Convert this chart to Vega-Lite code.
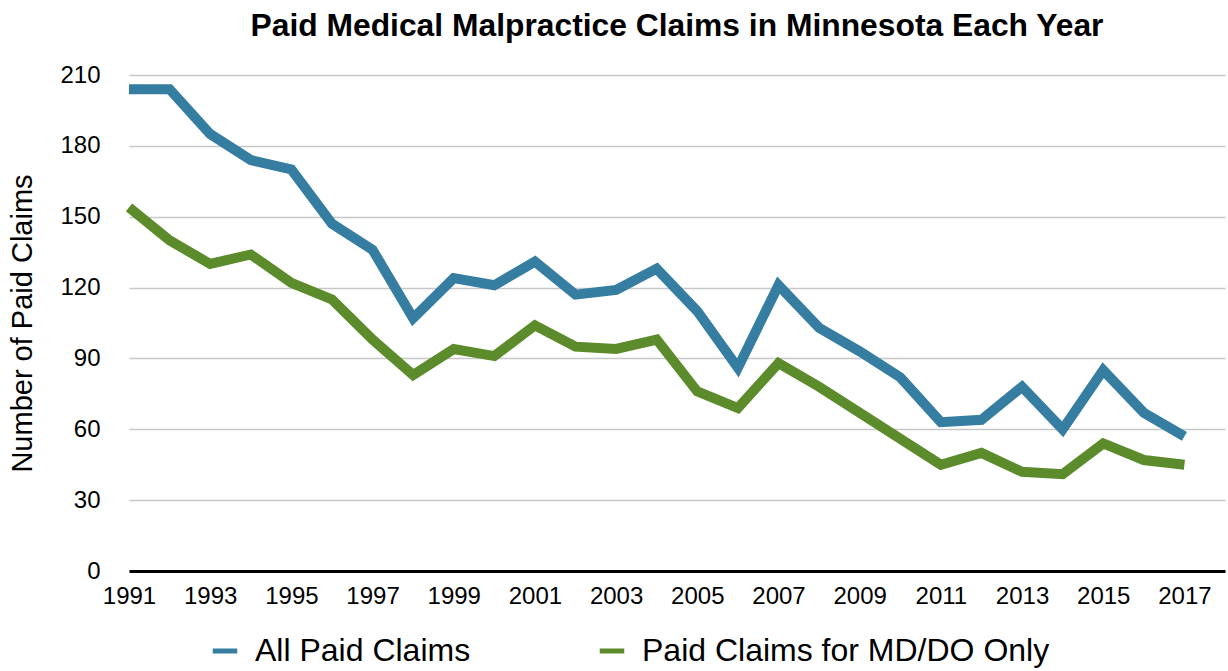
{
  "$schema": "https://vega.github.io/schema/vega-lite/v6.json",
  "autosize": "none",
  "width": 1096,
  "height": 496,
  "padding": {"left": 129, "top": 75, "right": 3, "bottom": 100},
  "background": "white",
  "title": {
    "text": "Paid Medical Malpractice Claims in Minnesota Each Year",
    "font": "Liberation Sans",
    "fontSize": 31.8,
    "fontWeight": "bold",
    "color": "#000000",
    "anchor": "middle",
    "frame": "group",
    "baseline": "alphabetic",
    "offset": -5
  },
  "data": {
    "values": [
      {"year": 1991, "series": "All Paid Claims", "claims": 204},
      {"year": 1992, "series": "All Paid Claims", "claims": 204},
      {"year": 1993, "series": "All Paid Claims", "claims": 185},
      {"year": 1994, "series": "All Paid Claims", "claims": 174},
      {"year": 1995, "series": "All Paid Claims", "claims": 170},
      {"year": 1996, "series": "All Paid Claims", "claims": 147},
      {"year": 1997, "series": "All Paid Claims", "claims": 136},
      {"year": 1998, "series": "All Paid Claims", "claims": 107},
      {"year": 1999, "series": "All Paid Claims", "claims": 124},
      {"year": 2000, "series": "All Paid Claims", "claims": 121},
      {"year": 2001, "series": "All Paid Claims", "claims": 131},
      {"year": 2002, "series": "All Paid Claims", "claims": 117},
      {"year": 2003, "series": "All Paid Claims", "claims": 119},
      {"year": 2004, "series": "All Paid Claims", "claims": 128},
      {"year": 2005, "series": "All Paid Claims", "claims": 110},
      {"year": 2006, "series": "All Paid Claims", "claims": 86},
      {"year": 2007, "series": "All Paid Claims", "claims": 121},
      {"year": 2008, "series": "All Paid Claims", "claims": 103},
      {"year": 2009, "series": "All Paid Claims", "claims": 93},
      {"year": 2010, "series": "All Paid Claims", "claims": 82},
      {"year": 2011, "series": "All Paid Claims", "claims": 63},
      {"year": 2012, "series": "All Paid Claims", "claims": 64},
      {"year": 2013, "series": "All Paid Claims", "claims": 78},
      {"year": 2014, "series": "All Paid Claims", "claims": 60},
      {"year": 2015, "series": "All Paid Claims", "claims": 85},
      {"year": 2016, "series": "All Paid Claims", "claims": 67},
      {"year": 2017, "series": "All Paid Claims", "claims": 57},
      {"year": 1991, "series": "Paid Claims for MD/DO Only", "claims": 154},
      {"year": 1992, "series": "Paid Claims for MD/DO Only", "claims": 140},
      {"year": 1993, "series": "Paid Claims for MD/DO Only", "claims": 130},
      {"year": 1994, "series": "Paid Claims for MD/DO Only", "claims": 134},
      {"year": 1995, "series": "Paid Claims for MD/DO Only", "claims": 122},
      {"year": 1996, "series": "Paid Claims for MD/DO Only", "claims": 115},
      {"year": 1997, "series": "Paid Claims for MD/DO Only", "claims": 98},
      {"year": 1998, "series": "Paid Claims for MD/DO Only", "claims": 83},
      {"year": 1999, "series": "Paid Claims for MD/DO Only", "claims": 94},
      {"year": 2000, "series": "Paid Claims for MD/DO Only", "claims": 91},
      {"year": 2001, "series": "Paid Claims for MD/DO Only", "claims": 104},
      {"year": 2002, "series": "Paid Claims for MD/DO Only", "claims": 95},
      {"year": 2003, "series": "Paid Claims for MD/DO Only", "claims": 94},
      {"year": 2004, "series": "Paid Claims for MD/DO Only", "claims": 98},
      {"year": 2005, "series": "Paid Claims for MD/DO Only", "claims": 76},
      {"year": 2006, "series": "Paid Claims for MD/DO Only", "claims": 69},
      {"year": 2007, "series": "Paid Claims for MD/DO Only", "claims": 88},
      {"year": 2008, "series": "Paid Claims for MD/DO Only", "claims": 78},
      {"year": 2009, "series": "Paid Claims for MD/DO Only", "claims": 67},
      {"year": 2010, "series": "Paid Claims for MD/DO Only", "claims": 56},
      {"year": 2011, "series": "Paid Claims for MD/DO Only", "claims": 45},
      {"year": 2012, "series": "Paid Claims for MD/DO Only", "claims": 50},
      {"year": 2013, "series": "Paid Claims for MD/DO Only", "claims": 42},
      {"year": 2014, "series": "Paid Claims for MD/DO Only", "claims": 41},
      {"year": 2015, "series": "Paid Claims for MD/DO Only", "claims": 54},
      {"year": 2016, "series": "Paid Claims for MD/DO Only", "claims": 47},
      {"year": 2017, "series": "Paid Claims for MD/DO Only", "claims": 45}
    ]
  },
  "mark": {"type": "line", "strokeWidth": 10, "strokeJoin": "miter", "strokeCap": "butt"},
  "encoding": {
    "x": {
      "field": "year",
      "type": "quantitative",
      "scale": {"domain": [1991, 2018], "nice": false, "zero": false},
      "axis": {
        "values": [1991, 1993, 1995, 1997, 1999, 2001, 2003, 2005, 2007, 2009, 2011, 2013, 2015, 2017],
        "format": "d",
        "title": null,
        "grid": false,
        "ticks": false,
        "domain": true,
        "domainColor": "#000000",
        "domainWidth": 3,
        "labelFont": "Liberation Sans",
        "labelFontSize": 24,
        "labelColor": "#000000",
        "labelPadding": 13,
        "labelFlush": false,
        "labelOverlap": false
      }
    },
    "y": {
      "field": "claims",
      "type": "quantitative",
      "scale": {"domain": [0, 210], "nice": false},
      "axis": {
        "values": [0, 30, 60, 90, 120, 150, 180, 210],
        "title": "Number of Paid Claims",
        "titleFont": "Liberation Sans",
        "titleFontSize": 29,
        "titleFontWeight": "normal",
        "titleColor": "#000000",
        "titlePadding": 22,
        "grid": true,
        "gridColor": "#c8c8c8",
        "gridWidth": 1.5,
        "ticks": false,
        "domain": false,
        "labelFont": "Liberation Sans",
        "labelFontSize": 24,
        "labelColor": "#000000",
        "labelPadding": 29,
        "labelFlush": false
      }
    },
    "color": {
      "field": "series",
      "type": "nominal",
      "scale": {"domain": ["All Paid Claims", "Paid Claims for MD/DO Only"], "range": ["#367DA2", "#5B8B2A"]},
      "legend": {
        "title": null,
        "orient": "none",
        "legendX": 80,
        "legendY": 560,
        "padding": 0,
        "direction": "horizontal",
        "symbolType": "stroke",
        "symbolStrokeWidth": 5,
        "symbolSize": 600,
        "labelFont": "Liberation Sans",
        "labelFontSize": 32,
        "labelColor": "#000000",
        "labelOffset": 14,
        "labelLimit": 0,
        "columnPadding": 118
      }
    }
  },
  "config": {"view": {"stroke": null}}
}
